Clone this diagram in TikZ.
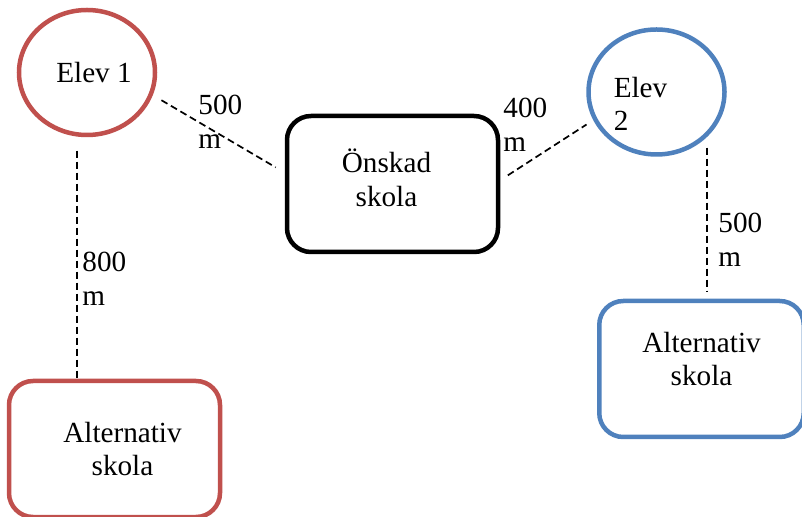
\documentclass[tikz,border=0pt]{standalone}
\usepackage{fontspec}
\setmainfont{Liberation Serif}
\usetikzlibrary{positioning, shapes.geometric}
\definecolor{elevred}{HTML}{C0504D}
\definecolor{elevblue}{HTML}{4F81BD}
\tikzset{
  elev/.style={
    draw=#1,
    ellipse,
    line width=2.25pt,
    minimum width=68pt,
    minimum height=62.5pt,
    inner sep=0pt
  },
  skola/.style={
    draw=#1,
    rectangle,
    rounded corners=12pt,
    line width=2.25pt,
    minimum width=105.5pt,
    minimum height=68pt,
    align=center
  },
  distline/.style={
    line width=0.85pt,
    dash pattern=on 3.5pt off 2pt
  },
  matt/.style={
    anchor=north west,
    inner sep=0pt,
    align=left
  }
}

\begin{document}
\begin{tikzpicture}[x=0.5pt, y=-0.5pt, font=\fontsize{14.6}{16.8}\selectfont]
        \useasboundingbox (0,0) rectangle (802,517);
        \node[elev=elevred, label={[xshift=3.5pt]center:Elev 1}] (elev1) at (87,72.5) {};
        \node[elev=elevblue, label={[align=left, xshift=-8pt, yshift=-6pt]center:Elev\\2}] (elev2) at (656.5,92) {};
        
        \node[skola=black, label={[align=center, xshift=-3pt, yshift=3pt]center:Önskad\\skola}] (onskad) at (392.5,184) {};
        \node[skola=elevred, label={[align=center, xshift=4pt]center:Alternativ\\skola}] (altvanster) at (114.5,449) {};
        \node[skola=elevblue, minimum width=102.25pt, label={[align=center, yshift=5pt]center:Alternativ\\skola}] (althoger) at (701.5,369) {};
        
        \draw[distline, shorten <=5pt, shorten >=5.25pt] (elev1.-19) -- (onskad.174);
        \draw[distline, shorten <=4.5pt, shorten >=4pt] (onskad.2) -- (elev2.204);
        \draw[distline, shorten <=7pt] (elev1.261) -- (elev1.261 |- altvanster.north);
        \draw[distline, shorten <=5.25pt, shorten >=3.5pt] (elev2.-42) -- (elev2.-42 |- althoger.north);
        
        \node[matt] (m500a) at (198,95) {500\\m};
        \node[matt] (m400) at (503,98) {400\\m};
        \node[matt] (m800) at (82,252) {800\\m};
        \node[matt] (m500b) at (718,213) {500\\m};
      \end{tikzpicture}
\end{document}
